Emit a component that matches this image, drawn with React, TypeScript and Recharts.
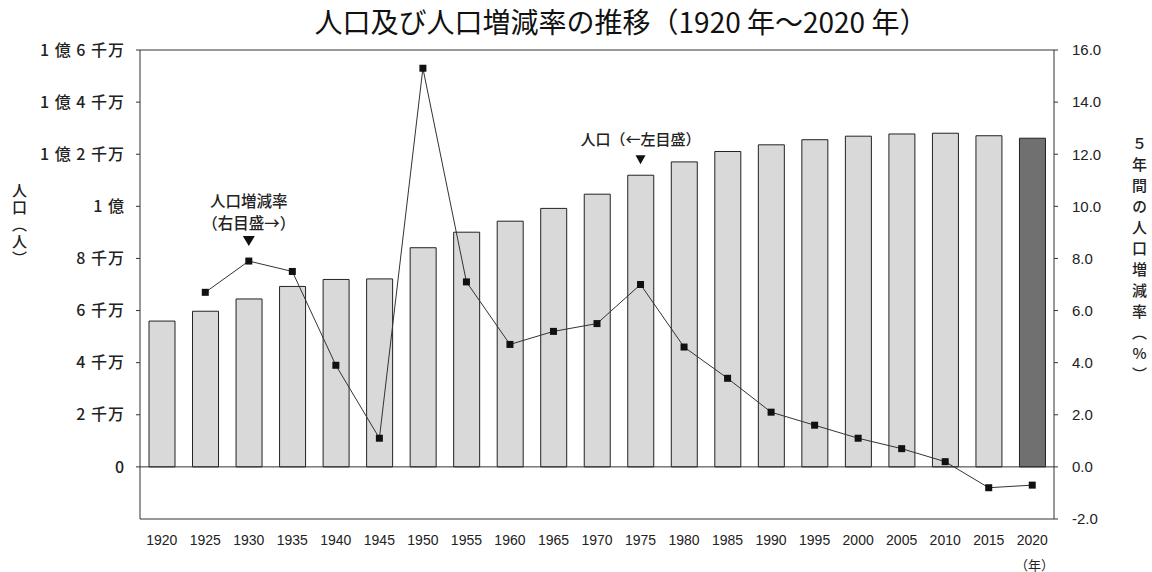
import { ComposedChart, Bar, Line, XAxis, YAxis, ReferenceLine, ReferenceDot, Cell } from 'recharts';

// Population census, 1920-2020
const YEARS = ['1920', '1925', '1930', '1935', '1940', '1945', '1950', '1955', '1960', '1965', '1970',
  '1975', '1980', '1985', '1990', '1995', '2000', '2005', '2010', '2015', '2020'];
// persons
const POPULATION = [55963000, 59737000, 64450000, 69254000, 71933000, 72147000, 84115000, 90077000,
  94302000, 99209000, 104665000, 111940000, 117060000, 121049000, 123611000, 125570000, 126926000,
  127768000, 128057000, 127095000, 126146000];
// 5-year change, %
const RATE = [null, 6.7, 7.9, 7.5, 3.9, 1.1, 15.3, 7.1, 4.7, 5.2, 5.5, 7.0, 4.6, 3.4, 2.1, 1.6, 1.1,
  0.7, 0.2, -0.8, -0.7];

const LEFT_TICKS = [0, 20e6, 40e6, 60e6, 80e6, 100e6, 120e6, 140e6, 160e6];
const LEFT_LABELS = ['0', '2 千万', '4 千万', '6 千万', '8 千万', '1 億', '1 億 2 千万', '1 億 4 千万', '1 億 6 千万'];
const RIGHT_TICKS = [-2, 0, 2, 4, 6, 8, 10, 12, 14, 16];

const data = YEARS.map((year, i) => ({ year, pop: POPULATION[i], rate: RATE[i] }));

const FONT_JP = '"Noto Sans CJK JP", "Noto Sans", sans-serif';
const FONT_NUM = '"Liberation Sans", Arial, sans-serif';
const INK = '#222';

const SquareDot = ({ cx, cy }: { cx?: number; cy?: number }) => {
  if (cx == null || cy == null || isNaN(cy)) return null;
  return <rect x={cx - 3.5} y={cy - 3.5} width={7} height={7} fill="#111" />;
};

// annotation above the 1930 rate point
const RateNote = ({ cx, cy }: { cx: number; cy: number }) => (
  <g fontFamily={FONT_JP} fontSize={15.5} fontWeight={500} fill={INK}>
    <text x={cx} y={cy - 61} textAnchor="middle" dominantBaseline="central">人口増減率</text>
    <text x={cx} y={cy - 39} textAnchor="middle" dominantBaseline="central">（右目盛→）</text>
    <path d={`M${cx - 6},${cy - 25} L${cx + 6},${cy - 25} L${cx},${cy - 15} Z`} fill="#111" />
  </g>
);

// annotation above the 1975 bar
const PopNote = ({ cx, cy }: { cx: number; cy: number }) => (
  <g fontFamily={FONT_JP} fontSize={15} fontWeight={500} fill={INK}>
    <text x={cx} y={cy - 37} textAnchor="middle" dominantBaseline="central">人口（←左目盛）</text>
    <path d={`M${cx - 5},${cy - 20} L${cx + 5},${cy - 20} L${cx},${cy - 11} Z`} fill="#111" />
  </g>
);

export default function App() {
  return (
    <div style={{ position: 'absolute', left: 0, top: 0, width: 1152, height: 572, background: '#fff' }}>
      <div style={{
        position: 'absolute', top: 3, left: 5, width: 1232, textAlign: 'center',
        fontFamily: FONT_JP, fontSize: 28, fontWeight: 400, color: '#111', lineHeight: '36px',
      }}>
        人口及び人口増減率の推移（1920 年～2020 年）
      </div>

      {/* axis titles */}
      <div style={{
        position: 'absolute', left: 9, top: 183, writingMode: 'vertical-rl', textOrientation: 'upright',
        fontFamily: FONT_JP, fontSize: 15, fontWeight: 500, color: INK, letterSpacing: 2,
      }}>人口（人）</div>
      <div style={{
        position: 'absolute', left: 1129, top: 136, writingMode: 'vertical-rl', textOrientation: 'upright',
        fontFamily: FONT_JP, fontSize: 15, fontWeight: 500, color: INK, letterSpacing: 6,
      }}>５年間の人口増減率（%）</div>
      <div style={{
        position: 'absolute', left: 1015, top: 555, fontFamily: FONT_JP, fontSize: 13, color: INK,
      }}>（年）</div>

      <ComposedChart
        width={1152}
        height={572}
        data={data}
        margin={{ top: 50, right: 38, bottom: 23, left: 0 }}
      >
        <XAxis
          dataKey="year"
          xAxisId="x"
          tickLine={false}
          tickSize={0}
          tickMargin={16}
          axisLine={{ stroke: '#333', strokeWidth: 1 }}
          tick={{ fill: INK, fontSize: 14, fontFamily: FONT_NUM }}
          interval={0}
          height={30}
        />
        <YAxis
          yAxisId="left"
          orientation="left"
          width={140}
          domain={[-20e6, 160e6]}
          ticks={LEFT_TICKS}
          tickSize={4}
          tickMargin={11}
          tickFormatter={(v: number) => LEFT_LABELS[LEFT_TICKS.indexOf(v)] ?? ''}
          axisLine={{ stroke: '#333' }}
          tickLine={{ stroke: '#333' }}
          tick={{ fill: INK, fontSize: 16, fontFamily: FONT_JP, fontWeight: 500, letterSpacing: 1 }}
          allowDataOverflow
        />
        <YAxis
          yAxisId="right"
          orientation="right"
          width={60}
          domain={[-2, 16]}
          ticks={RIGHT_TICKS}
          tickSize={4}
          tickMargin={14}
          tickFormatter={(v: number) => v.toFixed(1)}
          axisLine={{ stroke: '#333' }}
          tickLine={{ stroke: '#333' }}
          tick={{ fill: INK, fontSize: 15, fontFamily: FONT_NUM, textAnchor: 'start' }}
          allowDataOverflow
        />
        <ReferenceLine yAxisId="right" xAxisId="x" y={16} stroke="#333" />
        <Bar
          dataKey="pop"
          xAxisId="x"
          yAxisId="left"
          barSize={26}
          fill="#d9d9d9"
          stroke="#222"
          strokeWidth={1}
          isAnimationActive={false}
        >
          {data.map((d, i) => (
            <Cell key={d.year} fill={i === data.length - 1 ? '#707070' : '#d9d9d9'} />
          ))}
        </Bar>
        <ReferenceLine yAxisId="right" xAxisId="x" y={0} stroke="#333" />
        <Line
          dataKey="rate"
          xAxisId="x"
          yAxisId="right"
          stroke="#333"
          strokeWidth={1}
          dot={<SquareDot />}
          activeDot={false}
          isAnimationActive={false}
        />
        <ReferenceDot xAxisId="x" yAxisId="right" x="1930" y={RATE[2] as number} r={0} shape={RateNote as any} />
        <ReferenceDot xAxisId="x" yAxisId="left" x="1975" y={POPULATION[11]} r={0} shape={PopNote as any} />
      </ComposedChart>
    </div>
  );
}
